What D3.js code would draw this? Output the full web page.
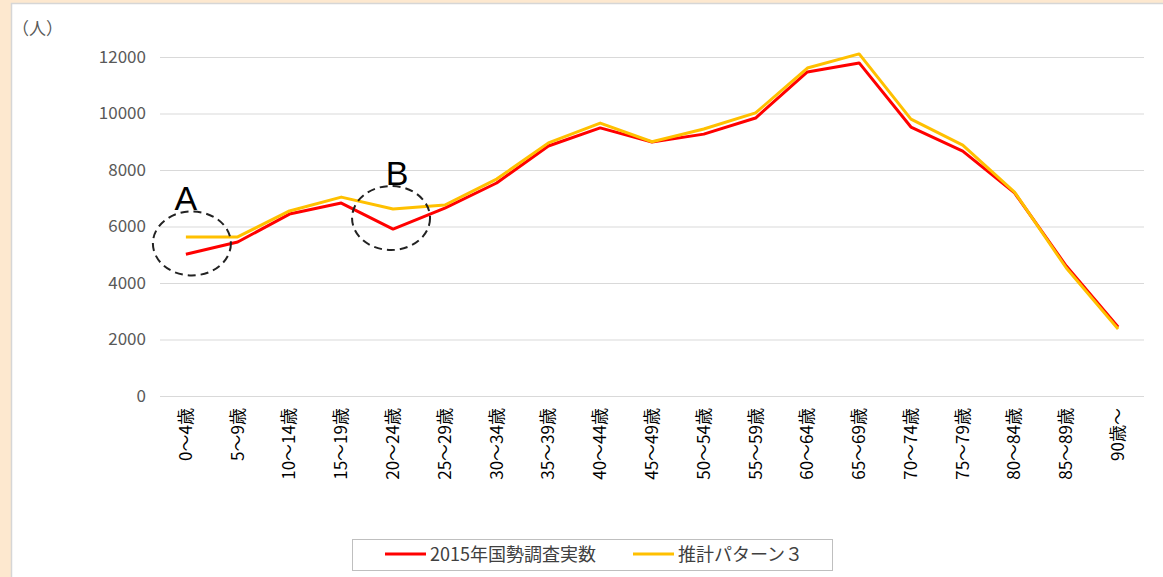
<!DOCTYPE html>
<html>
<head>
<meta charset="utf-8">
<script src="https://cdn.jsdelivr.net/npm/d3@7"></script>
<style>
  html, body { margin: 0; padding: 0; background: #fde8cf; }
  svg { display: block; }
</style>
</head>
<body>
<div id="chart"></div>
<script>
// age groups (x axis)
const categories = ["0～4歳", "5～9歳", "10～14歳", "15～19歳", "20～24歳", "25～29歳",
    "30～34歳", "35～39歳", "40～44歳", "45～49歳", "50～54歳", "55～59歳", "60～64歳",
    "65～69歳", "70～74歳", "75～79歳", "80～84歳", "85～89歳", "90歳～"];

// 2015年国勢調査実数
const actual2015 = [5020, 5450, 6440, 6830, 5910, 6650, 7540, 8850, 9490, 8990,
    9270, 9840, 11470, 11790, 9520, 8670, 7190, 4600, 2440];

// 推計パターン３
const pattern3 = [5630, 5630, 6550, 7040, 6620, 6760, 7680, 8960, 9660, 9000,
    9450, 10020, 11610, 12110, 9800, 8880, 7220, 4530, 2370];

const seriesNames = ["2015年国勢調査実数", "推計パターン３"];
const seriesColors = ["#ff0000", "#ffc000"];

const yTicks = [0, 2000, 4000, 6000, 8000, 10000, 12000];

// circled annotations
const annoLabels = ["A", "B"];
const annoCats = ["0～4歳", "20～24歳"];
const annoValues = [5400, 6300];

const width = 1163;
const height = 577;
const font = '"Noto Sans CJK JP", "Noto Sans", sans-serif';

const svg = d3.select("#chart").append("svg")
    .attr("width", width)
    .attr("height", height)
    .style("font-family", font);

// white chart panel
svg.append("rect")
    .attr("x", 11.5).attr("y", 3.5)
    .attr("width", width).attr("height", height)
    .attr("fill", "#fff")
    .attr("stroke", "#d6d6d6")
    .attr("stroke-width", 1.5);

const x = d3.scaleBand()
    .domain(categories)
    .range([160, 1144]);

const y = d3.scaleLinear()
    .domain([0, 12000])
    .range([396, 57]);

// gridlines + y labels
const yAxis = svg.append("g")
    .attr("transform", "translate(160,0)")
    .call(d3.axisLeft(y).tickValues(yTicks).tickSize(-(1144 - 160)).tickPadding(14).tickFormat(d3.format("d")));
yAxis.select(".domain").remove();
yAxis.selectAll(".tick line").attr("stroke", "#d9d9d9").attr("stroke-width", 1.2);
yAxis.selectAll(".tick text")
    .attr("fill", "#595959")
    .style("font-family", font)
    .style("font-size", "17px");

// unit label
svg.append("text")
    .attr("x", 12).attr("y", 35)
    .attr("fill", "#595959")
    .style("font-size", "17px")
    .text("（人）");

// x labels, rotated
const xAxis = svg.append("g")
    .attr("transform", "translate(0,396)")
    .call(d3.axisBottom(x).tickSize(0).tickPadding(0));
xAxis.select(".domain").remove();
xAxis.selectAll(".tick text")
    .attr("fill", "#000")
    .style("font-family", font)
    .style("font-size", "17px")
    .attr("text-anchor", "end")
    .attr("transform", "rotate(-90)")
    .attr("x", -12)
    .attr("y", 0)
    .attr("dy", "0.35em");

// lines
const line = d3.line()
    .x((d, i) => x(categories[i]) + x.bandwidth() / 2)
    .y(d => y(d));

[actual2015, pattern3].forEach((vals, k) => {
    svg.append("path")
        .datum(vals)
        .attr("fill", "none")
        .attr("stroke", seriesColors[k])
        .attr("stroke-width", 3)
        .attr("stroke-linejoin", "round")
        .attr("d", line);
});

// annotations
const rx = 39, ry = 32;
annoLabels.forEach((lab, i) => {
    const cx = x(annoCats[i]) + x.bandwidth() / 2 + (i === 0 ? 6 : -2);
    const cy = y(annoValues[i]);
    svg.append("ellipse")
        .attr("cx", cx).attr("cy", cy)
        .attr("rx", rx).attr("ry", ry)
        .attr("fill", "none")
        .attr("stroke", "#222")
        .attr("stroke-width", 2)
        .attr("stroke-dasharray", "8,5");
    svg.append("text")
        .attr("x", cx + (i === 0 ? -6 : 6))
        .attr("y", cy - ry - 1)
        .attr("text-anchor", "middle")
        .style("font-family", '"Liberation Sans", Arial, sans-serif')
        .style("font-size", "34px")
        .attr("fill", "#000")
        .text(lab);
});

// legend
const legend = svg.append("g");
legend.append("rect")
    .attr("x", 352.5).attr("y", 539.5)
    .attr("width", 480).attr("height", 31)
    .attr("fill", "#fff")
    .attr("stroke", "#bfbfbf");
const legX = [385, 633];
seriesNames.forEach((name, k) => {
    legend.append("line")
        .attr("x1", legX[k]).attr("x2", legX[k] + 41)
        .attr("y1", 554).attr("y2", 554)
        .attr("stroke", seriesColors[k])
        .attr("stroke-width", 3);
    legend.append("text")
        .attr("x", legX[k] + 45)
        .attr("y", 561)
        .attr("fill", "#404040")
        .style("font-size", "18px")
        .text(name);
});
</script>
</body>
</html>
